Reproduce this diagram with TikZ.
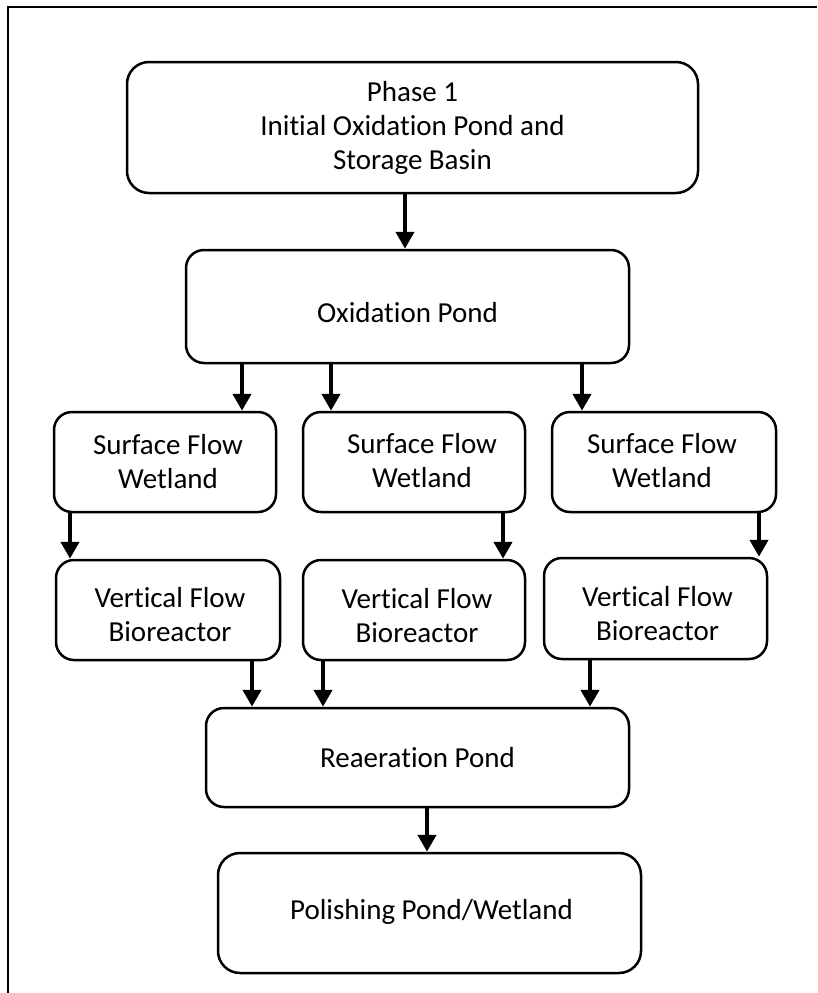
\documentclass[tikz,border=0pt]{standalone}
\usepackage{fontspec}
\setmainfont[Ligatures={NoCommon}]{Carlito}
\usetikzlibrary{arrows.meta}
% set a block of centred lines, moved by (#1,#2) without changing the node size
\newcommand{\movedtext}[3]{\raisebox{#2}[\height][\depth]{\hspace*{#1}\begin{tabular}{@{}c@{}}#3\end{tabular}\hspace*{-#1}}}
\begin{document}
\begin{tikzpicture}[x=1pt,y=-1pt,
  box/.style={draw=black,line width=2.5pt,rounded corners=18pt,fill=white,
    align=center,inner sep=0pt,font=\fontsize{29}{34}\selectfont},
  arr/.style={line width=4.5pt,-{Triangle[length=17pt,width=18pt]}},
  frame/.style={line width=2.2pt}]
\useasboundingbox (0,0) rectangle (817,993);
% open frame: top and left edges
\draw[frame] (817,7) -- (8,7) -- (8,993);

% process stages
\node[box,minimum width=571pt,minimum height=131pt,rounded corners=22pt] (top) at (412.5,127.5)
  {Phase 1\\Initial Oxidation Pond and\\Storage Basin};
\node[box,minimum width=443pt,minimum height=113pt] (oxid) at (407.5,306.5)
  {\movedtext{0pt}{-9pt}{Oxidation Pond}};

\node[box,minimum width=222pt,minimum height=100pt] (s1) at (165,462)
  {\movedtext{3pt}{-3pt}{Surface Flow\\Wetland}};
\node[box,minimum width=222pt,minimum height=100pt] (s2) at (414,462)
  {\movedtext{8pt}{-2pt}{Surface Flow\\Wetland}};
\node[box,minimum width=224pt,minimum height=100pt] (s3) at (664,462)
  {\movedtext{-2pt}{-2pt}{Surface Flow\\Wetland}};

\node[box,minimum width=224pt,minimum height=100pt] (v1) at (168,610)
  {\movedtext{2pt}{-8pt}{Vertical Flow\\Bioreactor}};
\node[box,minimum width=222pt,minimum height=100pt] (v2) at (414,610)
  {\movedtext{3pt}{-9pt}{Vertical Flow\\Bioreactor}};
\node[box,minimum width=223pt,minimum height=101pt] (v3) at (655.5,608.5)
  {\movedtext{2pt}{-8pt}{Vertical Flow\\Bioreactor}};

\node[box,minimum width=423pt,minimum height=99pt] (re) at (417.5,757.5) {Reaeration Pond};
\node[box,minimum width=423pt,minimum height=120pt,rounded corners=22pt] (pol) at (429.5,913)
  {\movedtext{2pt}{0pt}{Polishing Pond/Wetland}};

% flow arrows
\draw[arr] (top.south -| 405,0) -- (oxid.north -| 405,0);
\draw[arr] (oxid.south -| 242,0) -- (s1.north -| 242,0);
\draw[arr] (oxid.south -| 331,0) -- (s2.north -| 331,0);
\draw[arr] (oxid.south -| 582,0) -- (s3.north -| 582,0);
\draw[arr] (s1.south -| 70,0) -- (v1.north -| 70,0);
\draw[arr] (s2.south -| 503,0) -- (v2.north -| 503,0);
\draw[arr] (s3.south -| 759,0) -- (v3.north -| 759,0);
\draw[arr] (v1.south -| 252,0) -- (re.north -| 252,0);
\draw[arr] (v2.south -| 323,0) -- (re.north -| 323,0);
\draw[arr] (v3.south -| 590,0) -- (re.north -| 590,0);
\draw[arr] (re.south -| 427,0) -- (pol.north -| 427,0);
\end{tikzpicture}
\end{document}
